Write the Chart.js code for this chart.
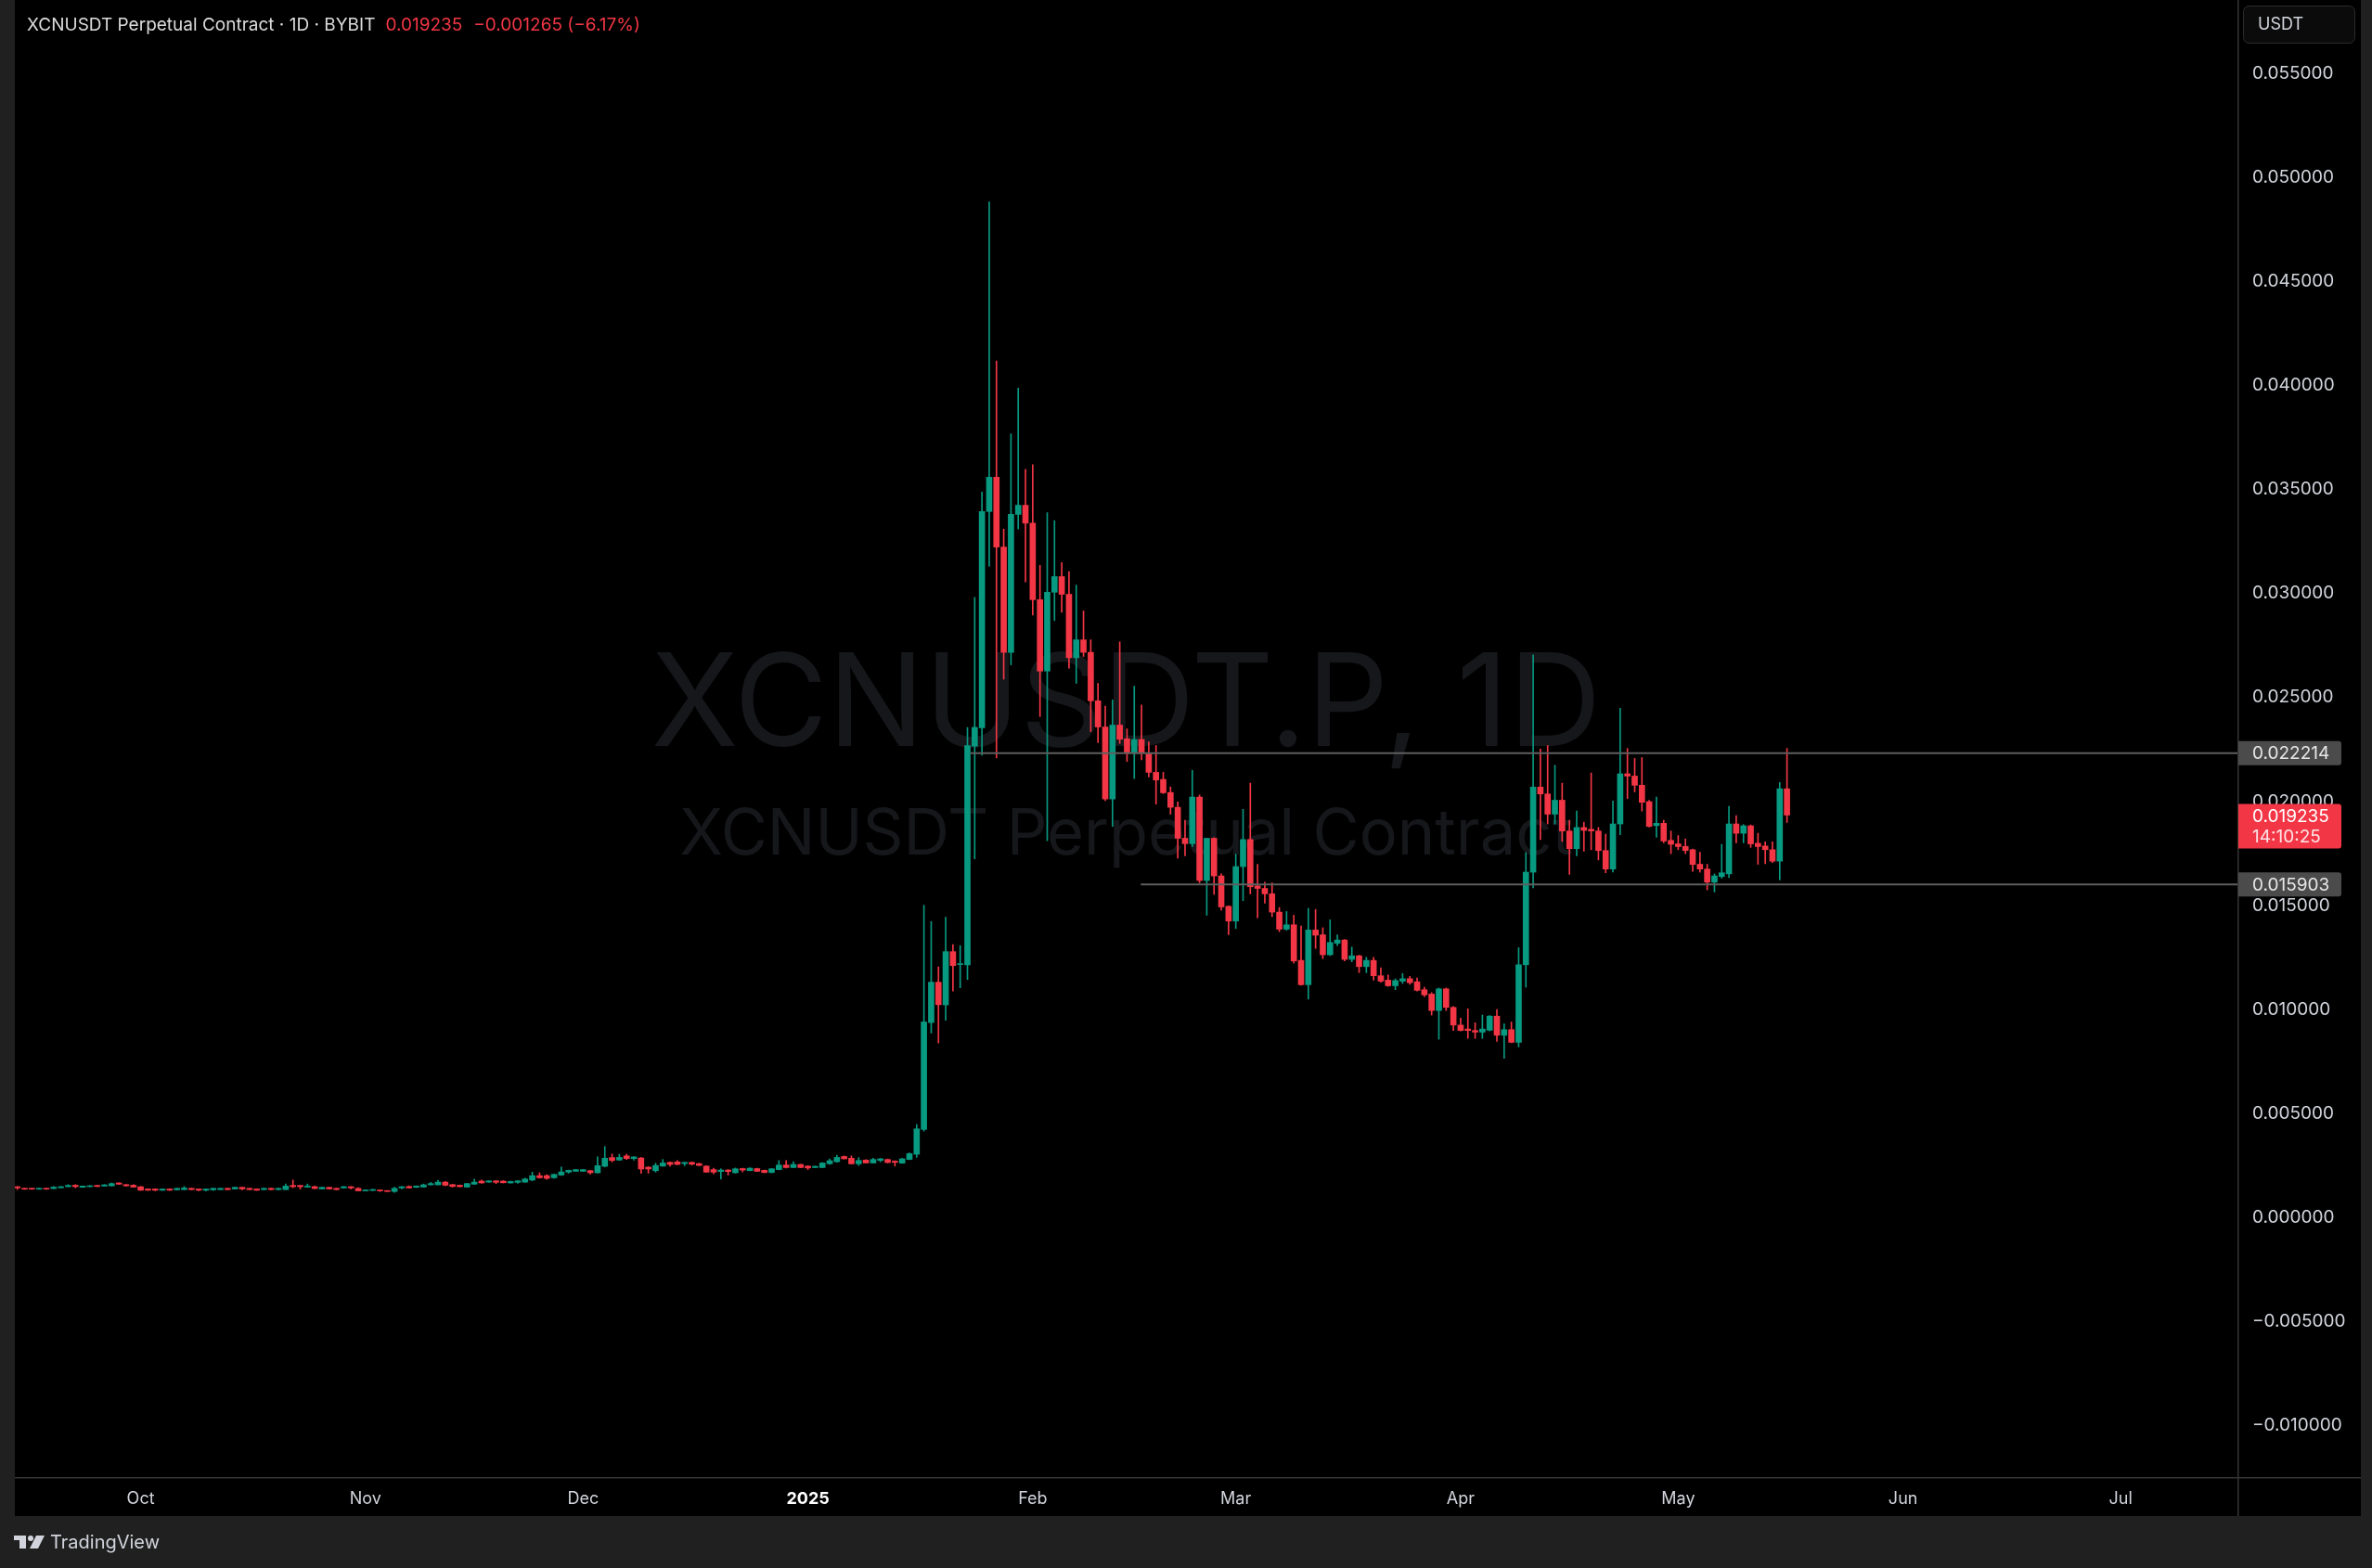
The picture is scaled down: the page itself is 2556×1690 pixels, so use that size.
<!DOCTYPE html>
<html>
<head>
<meta charset="utf-8">
<script src="https://cdn.jsdelivr.net/npm/chart.js@4.4.1/dist/chart.umd.min.js"></script>
<style>
  html, body { margin: 0; padding: 0; background: #202020; }
  canvas { display: block; }
</style>
</head>
<body>
<canvas id="chart" width="2556" height="1690" style="width:2556px;height:1690px"></canvas>
<script>
// ------------------------------------------------------------
// DATA — XCNUSDT.P daily candles, day 0 = 2024-10-01
// ------------------------------------------------------------
const FIRST_DAY = -17; // 2024-09-14

const opens = [
  .00137,.00129,.00129,.00125,.00129,.00128,.00132,.00137,.00144,.00134,
  .00137,.00143,.00140,.00141,.00155,.00147,.00144,.00137,.00126,.00126,
  .00120,.00126,.00122,.00123,.00129,.00126,.00120,.00122,.00123,.00129,
  .00126,.00134,.00129,.00126,.00123,.00129,.00123,.00123,.00143,.00143,
  .00135,.00137,.00126,.00134,.00129,.00131,.00137,.00129,.00117,.00119,
  .00120,.00117,.00114,.00131,.00138,.00134,.00135,.00146,.00146,.00159,
  .00147,.00144,.00135,.00149,.00164,.00159,.00165,.00164,.00155,.00158,
  .00159,.00169,.00190,.00190,.00180,.00193,.00207,.00211,.00211,.00214,
  .00204,.00235,.00277,.00265,.00285,.00272,.00275,.00231,.00214,.00236,
  .00254,.00256,.00248,.00254,.00248,.00236,.00219,.00210,.00217,.00204,
  .00224,.00214,.00224,.00216,.00205,.00219,.00241,.00229,.00244,.00236,
  .00229,.00229,.00247,.00257,.00282,.00274,.00247,.00265,.00251,.00263,
  .00268,.00260,.00250,.00268,.00293,.00412,.00926,.01120,.01011,.01267,
  .01205,.01203,.02255,.02343,.03383,.03548,.03212,.02706,.03369,.03413,
  .03327,.02959,.02616,.02995,.03070,.02985,.02680,.02766,.02706,.02473,
  .02347,.02001,.02356,.02290,.02221,.02287,.02218,.02129,.02095,.02032,
  .01961,.01812,.01786,.02010,.01609,.01812,.01631,.01485,.01414,.01676,
  .01806,.01583,.01571,.01545,.01457,.01375,.01396,.01225,.01108,.01371,
  .01348,.01252,.01307,.01323,.01230,.01247,.01195,.01225,.01151,.01130,
  .01103,.01125,.01137,.01122,.01084,.01063,.00984,.01088,.00999,.00914,
  .00895,.00888,.00880,.00889,.00957,.00865,.00892,.00831,.01204,.01649,
  .02058,.02025,.01928,.01995,.01847,.01762,.01864,.01855,.01847,.01753,
  .01664,.01881,.02122,.02111,.02067,.01988,.01873,.01884,.01802,.01785,
  .01773,.01757,.01687,.01664,.01601,.01628,.01641,.01881,.01836,.01872,
  .01788,.01775,.01757,.01702,.02050
];
const highs = [
  .00138,.00130,.00130,.00130,.00130,.00138,.00138,.00147,.00147,.00141,
  .00142,.00144,.00147,.00155,.00156,.00148,.00147,.00138,.00127,.00127,
  .00127,.00127,.00130,.00138,.00130,.00127,.00127,.00130,.00130,.00130,
  .00135,.00135,.00130,.00127,.00130,.00130,.00130,.00150,.00169,.00144,
  .00150,.00140,.00135,.00135,.00130,.00138,.00138,.00132,.00121,.00125,
  .00121,.00118,.00135,.00138,.00141,.00141,.00150,.00158,.00168,.00162,
  .00148,.00145,.00153,.00174,.00169,.00166,.00166,.00166,.00163,.00166,
  .00178,.00207,.00204,.00195,.00198,.00232,.00217,.00220,.00220,.00216,
  .00281,.00330,.00294,.00293,.00293,.00282,.00278,.00233,.00250,.00268,
  .00256,.00263,.00255,.00256,.00250,.00238,.00226,.00223,.00219,.00227,
  .00226,.00228,.00226,.00217,.00224,.00263,.00263,.00257,.00245,.00238,
  .00236,.00253,.00271,.00288,.00285,.00285,.00277,.00267,.00274,.00273,
  .00270,.00262,.00273,.00300,.00436,.01490,.01412,.01194,.01433,.01301,
  .01296,.02345,.02970,.03476,.04871,.04106,.03298,.03756,.03976,.03586,
  .03608,.03124,.03377,.03339,.03138,.03094,.03029,.02905,.02766,.02557,
  .02447,.02477,.02756,.02338,.02543,.02453,.02275,.02258,.02129,.02059,
  .01987,.01899,.02139,.02020,.01812,.01815,.01641,.01487,.01735,.01951,
  .02077,.01687,.01601,.01598,.01479,.01460,.01442,.01390,.01475,.01470,
  .01382,.01420,.01348,.01325,.01289,.01250,.01240,.01240,.01189,.01155,
  .01136,.01162,.01148,.01140,.01096,.01070,.01092,.01092,.01003,.00947,
  .00992,.00925,.00962,.00960,.00989,.00920,.00929,.01286,.01743,.02694,
  .02241,.02258,.02163,.02077,.01899,.01943,.01889,.02126,.01864,.01832,
  .01991,.02437,.02244,.02196,.02200,.01995,.02010,.01899,.01847,.01825,
  .01809,.01760,.01745,.01687,.01640,.01783,.01966,.01921,.01878,.01876,
  .01836,.01795,.01795,.02080,.02244
];
const lows = [
  .00123,.00124,.00124,.00124,.00124,.00127,.00131,.00136,.00132,.00133,
  .00136,.00137,.00139,.00140,.00148,.00140,.00134,.00119,.00119,.00117,
  .00119,.00119,.00121,.00122,.00122,.00117,.00116,.00119,.00122,.00122,
  .00125,.00122,.00122,.00119,.00122,.00122,.00122,.00122,.00132,.00126,
  .00134,.00127,.00125,.00125,.00122,.00130,.00126,.00116,.00116,.00118,
  .00114,.00113,.00110,.00126,.00130,.00133,.00134,.00145,.00145,.00141,
  .00135,.00136,.00134,.00148,.00154,.00158,.00152,.00155,.00154,.00153,
  .00158,.00165,.00178,.00172,.00178,.00191,.00202,.00210,.00210,.00198,
  .00202,.00232,.00256,.00263,.00268,.00265,.00201,.00202,.00207,.00235,
  .00236,.00242,.00238,.00241,.00238,.00205,.00199,.00174,.00193,.00202,
  .00208,.00213,.00210,.00204,.00204,.00218,.00227,.00228,.00228,.00219,
  .00228,.00228,.00245,.00255,.00270,.00246,.00239,.00250,.00250,.00257,
  .00252,.00236,.00249,.00267,.00278,.00404,.00876,.00828,.00937,.01078,
  .01093,.01133,.01713,.02212,.03120,.02198,.02577,.02646,.03299,.03045,
  .02885,.02397,.01800,.02859,.02899,.02630,.02557,.02686,.02325,.02272,
  .01993,.01869,.02268,.02181,.02099,.02189,.02107,.01976,.02027,.01928,
  .01717,.01728,.01772,.01598,.01442,.01542,.01467,.01348,.01378,.01512,
  .01545,.01430,.01500,.01435,.01363,.01370,.01212,.01105,.01039,.01282,
  .01233,.01248,.01296,.01222,.01218,.01166,.01166,.01130,.01120,.01100,
  .01084,.01114,.01110,.01077,.01051,.00962,.00846,.00984,.00888,.00886,
  .00850,.00850,.00850,.00886,.00836,.00754,.00829,.00809,.01096,.01574,
  .01806,.01881,.01881,.01797,.01638,.01728,.01750,.01757,.01708,.01646,
  .01649,.01829,.02003,.02035,.01943,.01866,.01817,.01790,.01738,.01757,
  .01738,.01653,.01649,.01564,.01554,.01620,.01623,.01790,.01790,.01768,
  .01687,.01690,.01695,.01612,.01888
];
const closes = [
  .00131,.00125,.00125,.00129,.00125,.00135,.00137,.00143,.00137,.00140,
  .00141,.00138,.00146,.00152,.00149,.00141,.00135,.00120,.00120,.00120,
  .00126,.00120,.00129,.00131,.00123,.00120,.00126,.00129,.00129,.00123,
  .00134,.00126,.00123,.00120,.00129,.00123,.00129,.00140,.00137,.00137,
  .00140,.00128,.00134,.00126,.00123,.00137,.00131,.00117,.00120,.00122,
  .00117,.00114,.00129,.00137,.00131,.00140,.00146,.00152,.00159,.00144,
  .00138,.00137,.00152,.00159,.00155,.00165,.00158,.00156,.00162,.00165,
  .00174,.00190,.00180,.00177,.00196,.00208,.00216,.00219,.00219,.00204,
  .00238,.00274,.00263,.00278,.00272,.00280,.00222,.00222,.00239,.00251,
  .00244,.00244,.00254,.00245,.00239,.00207,.00207,.00217,.00210,.00223,
  .00217,.00226,.00211,.00205,.00223,.00241,.00229,.00244,.00229,.00227,
  .00235,.00251,.00262,.00278,.00271,.00247,.00263,.00251,.00268,.00271,
  .00253,.00254,.00271,.00296,.00415,.00929,.01120,.01012,.01267,.01200,
  .01209,.02258,.02345,.03383,.03548,.03212,.02706,.03369,.03413,.03327,
  .02959,.02616,.02995,.03070,.02985,.02680,.02766,.02706,.02473,.02347,
  .02001,.02356,.02288,.02221,.02287,.02220,.02129,.02092,.02031,.01961,
  .01812,.01786,.02010,.01609,.01812,.01631,.01482,.01414,.01676,.01806,
  .01579,.01571,.01545,.01457,.01375,.01396,.01222,.01108,.01371,.01346,
  .01252,.01311,.01323,.01230,.01247,.01195,.01225,.01151,.01125,.01103,
  .01128,.01137,.01118,.01081,.01059,.00984,.01088,.00999,.00914,.00888,
  .00888,.00880,.00895,.00957,.00865,.00892,.00831,.01204,.01649,.02058,
  .02025,.01928,.01995,.01847,.01762,.01864,.01850,.01847,.01753,.01664,
  .01881,.02122,.02111,.02067,.01985,.01869,.01884,.01799,.01783,.01772,
  .01753,.01686,.01664,.01601,.01631,.01646,.01881,.01836,.01872,.01785,
  .01772,.01757,.01702,.02050,.019235
];

// time axis (day offsets from 2024-10-01)
const monthDays   = [0, 31, 61, 92, 123, 151, 182, 212, 243, 273];
const monthLabels = ["Oct", "Nov", "Dec", "2025", "Feb", "Mar", "Apr", "May", "Jun", "Jul"];

// price axis
const priceTicks = [-0.010, -0.005, 0, 0.005, 0.010, 0.015, 0.020, 0.025, 0.030, 0.035, 0.040, 0.045, 0.050, 0.055];

// horizontal rays drawn on the chart
const rayLevels = [0.022214, 0.015903];
const rayStartDays = [114.5, 138.0];

const LAST_PRICE = 0.019235;
const COUNTDOWN = "14:10:25";

// ------------------------------------------------------------
// STYLE
// ------------------------------------------------------------
const UP = "#089981";
const DOWN = "#f23645";
const FONT = "Inter, 'Noto Sans', sans-serif";
const TEXT = "#d1d4dc";

const candleColors = opens.map((o, i) => (closes[i] >= o ? UP : DOWN));
const xOf = (i) => FIRST_DAY + i;

// ------------------------------------------------------------
// PLUGIN: frame, watermark, legend, badges
// ------------------------------------------------------------
function fitFont(c, text, target, weight) {
  c.font = `${weight} 100px ${FONT}`;
  const w = c.measureText(text).width;
  return 100 * target / w;
}

const framePlugin = {
  id: "frame",
  beforeDraw(chart) {
    const c = chart.ctx;
    const { chartArea } = chart;
    const ys = chart.scales.y, xs = chart.scales.x;
    c.save();
    c.fillStyle = "#202020";
    c.fillRect(0, 0, chart.width, chart.height);
    c.fillStyle = "#000000";
    c.fillRect(chartArea.left, 0, ys.right - chartArea.left, xs.bottom);
    c.restore();
  },
  beforeDatasetsDraw(chart) {
    const c = chart.ctx;
    const { chartArea } = chart;
    const cx = (chartArea.left + chartArea.right) / 2;
    c.save();
    c.fillStyle = "#16171b";
    c.textAlign = "center";
    c.textBaseline = "alphabetic";
    let s = fitFont(c, "XCNUSDT.P, 1D", 1024, 400);
    c.font = `400 ${s}px ${FONT}`;
    c.fillText("XCNUSDT.P, 1D", cx, 804);
    s = fitFont(c, "XCNUSDT Perpetual Contract", 963, 400);
    c.font = `400 ${s}px ${FONT}`;
    c.fillText("XCNUSDT Perpetual Contract", cx, 921);
    c.restore();
  },
  afterDraw(chart) {
    const c = chart.ctx;
    const { chartArea } = chart;
    const ys = chart.scales.y, xs = chart.scales.x;
    c.save();

    // separators
    c.strokeStyle = "#353535";
    c.lineWidth = 1.5;
    c.beginPath();
    c.moveTo(chartArea.right + 0.75, 0);
    c.lineTo(chartArea.right + 0.75, xs.bottom);
    c.moveTo(chartArea.left, chartArea.bottom + 0.75);
    c.lineTo(ys.right, chartArea.bottom + 0.75);
    c.stroke();

    // legend header
    c.textBaseline = "alphabetic";
    c.textAlign = "left";
    c.font = `400 19px ${FONT}`;
    c.fillStyle = "#dbdbdb";
    const head = "XCNUSDT Perpetual Contract · 1D · BYBIT";
    c.fillText(head, 29, 33);
    let x = 29 + c.measureText(head).width + 11;
    c.fillStyle = DOWN;
    c.fillText("0.019235", x, 33);
    x += c.measureText("0.019235").width + 12;
    c.fillText("\u22120.001265 (\u22126.17%)", x, 33);

    // USDT box
    c.beginPath();
    c.roundRect(2417.5, 6.5, 120, 40, 6);
    c.fillStyle = "#0b0b0b";
    c.fill();
    c.strokeStyle = "#2c2c2c";
    c.lineWidth = 1;
    c.stroke();
    c.fillStyle = TEXT;
    c.font = `400 18px ${FONT}`;
    c.textBaseline = "middle";
    c.fillText("USDT", 2433, 27);

    // grey level badges
    c.font = `400 19px ${FONT}`;
    rayLevels.forEach((lv) => {
      const py = ys.getPixelForValue(lv);
      c.beginPath();
      c.roundRect(chartArea.right + 1, py - 13, 111, 26, [0, 3, 3, 0]);
      c.fillStyle = "#4b4b4b";
      c.fill();
      c.fillStyle = "#e6e6e6";
      c.fillText(lv.toFixed(6), 2427, py + 1);
    });

    // last price badge
    const py = ys.getPixelForValue(LAST_PRICE);
    c.beginPath();
    c.roundRect(chartArea.right + 1, py - 12, 111, 48, [0, 3, 3, 0]);
    c.fillStyle = DOWN;
    c.fill();
    c.fillStyle = "#ffffff";
    c.fillText(LAST_PRICE.toFixed(6), 2427, py + 2);
    c.fillStyle = "#ffe3e6";
    c.fillText(COUNTDOWN, 2427, py + 24);

    // footer logo
    c.fillStyle = TEXT;
    c.fillRect(15, 1655, 13, 5);
    c.fillRect(21, 1655, 7, 14);
    c.beginPath();
    c.arc(33, 1658, 3, 0, Math.PI * 2);
    c.fill();
    c.beginPath();
    c.moveTo(39, 1655); c.lineTo(48, 1655); c.lineTo(41, 1669); c.lineTo(32, 1669);
    c.closePath();
    c.fill();
    c.font = `400 20px ${FONT}`;
    c.textBaseline = "middle";
    c.fillText("TradingView", 54, 1663);

    c.restore();
  }
};

// ------------------------------------------------------------
// CHART
// ------------------------------------------------------------
const ctx = document.getElementById("chart");

const wickData = opens.map((o, i) => ({ x: xOf(i), y: [lows[i], highs[i]] }));
const bodyData = opens.map((o, i) => ({ x: xOf(i), y: [o, closes[i]] }));
const X_MIN = -17.35, X_MAX = 289.11;

const rayDatasets = rayLevels.map((lv, k) => ({
  type: "line",
  data: [{ x: rayStartDays[k], y: lv }, { x: X_MAX, y: lv }],
  borderColor: "#5e5e5e",
  borderWidth: 2,
  borderCapStyle: "round",
  pointRadius: 0,
  order: 0
}));

// scales must not reserve room for their edge labels (TradingView panes run edge to edge)
const noEdgePadding = (s) => {
  s.paddingTop = 0; s.paddingBottom = 0; s.paddingLeft = 0; s.paddingRight = 0;
};

new Chart(ctx, {
  type: "bar",
  data: {
    datasets: [
      {
        label: "wick",
        data: wickData,
        backgroundColor: candleColors,
        barThickness: 1,
        grouped: false,
        order: 2
      },
      {
        label: "body",
        data: bodyData,
        backgroundColor: candleColors,
        barThickness: 6,
        minBarLength: 1,
        grouped: false,
        order: 1
      },
      ...rayDatasets
    ]
  },
  options: {
    responsive: false,
    animation: false,
    devicePixelRatio: 1,
    layout: { padding: { left: 16, right: 12, top: 0, bottom: 56 } },
    plugins: {
      legend: { display: false },
      tooltip: { enabled: false }
    },
    scales: {
      x: {
        type: "linear",
        min: X_MIN,
        max: X_MAX,
        offset: false,
        grid: { display: false, drawTicks: false, offset: false },
        border: { display: false },
        afterBuildTicks: (s) => { s.ticks = monthDays.map((v) => ({ value: v })); },
        afterFit: (s) => { s.height = 42; noEdgePadding(s); },
        ticks: {
          autoSkip: false,
          maxRotation: 0,
          padding: 13,
          callback: (v, i) => monthLabels[i],
          color: (c) => (monthLabels[c.index] === "2025" ? "#ffffff" : TEXT),
          font: (c) => ({
            family: FONT,
            size: 18,
            weight: monthLabels[c.index] === "2025" ? "bold" : "normal"
          })
        }
      },
      y: {
        position: "right",
        min: -0.01259,
        max: 0.05842,
        grid: { display: false, drawTicks: false },
        border: { display: false },
        afterBuildTicks: (s) => { s.ticks = priceTicks.map((v) => ({ value: v })); },
        afterFit: (s) => { s.width = 133; noEdgePadding(s); },
        ticks: {
          padding: 16,
          labelOffset: 2.5,
          crossAlign: "near",
          color: TEXT,
          font: { family: FONT, size: 19 },
          callback: (v) => (v < 0 ? "\u2212" : "") + Math.abs(v).toFixed(6)
        }
      }
    }
  },
  plugins: [framePlugin]
});
</script>
</body>
</html>
